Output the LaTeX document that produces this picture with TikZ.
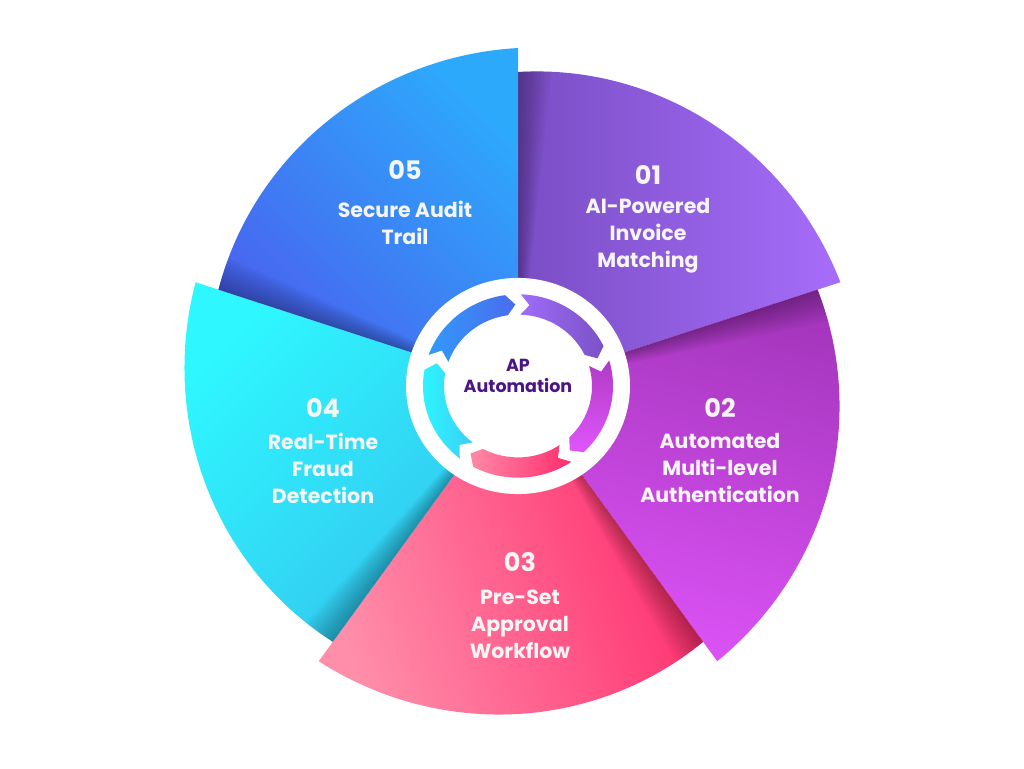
\documentclass[tikz,border=0pt]{standalone}
\usepackage{fontspec}
\setmainfont{Poppins}
\definecolor{txtc}{HTML}{F5F5F5}
\definecolor{ctr}{HTML}{4B1587}
% sector colours
\definecolor{s1t}{HTML}{A66DFA}\definecolor{s1b}{HTML}{7A4EC5}
\definecolor{s2t}{HTML}{A536BD}\definecolor{s2b}{HTML}{DD53F7}
\definecolor{s3t}{HTML}{FF2B6C}\definecolor{s3b}{HTML}{FF8EAA}
\definecolor{s4t}{HTML}{2EF7FF}\definecolor{s4b}{HTML}{34C3EE}
\definecolor{s5t}{HTML}{2DA9FC}\definecolor{s5b}{HTML}{4A60EE}
% arrow colours
\definecolor{a1l}{HTML}{A06CF8}\definecolor{a1r}{HTML}{7A52C6}
\definecolor{a2t}{HTML}{B13AC8}\definecolor{a2b}{HTML}{DF56F9}
\definecolor{a3l}{HTML}{FF88A7}\definecolor{a3r}{HTML}{FF2D6D}
\definecolor{a4l}{HTML}{2DF7FF}\definecolor{a4r}{HTML}{3AD0F5}
\definecolor{a5l}{HTML}{3299FA}\definecolor{a5r}{HTML}{4A6CEE}
\begin{document}
\begin{tikzpicture}[x=1pt,y=1pt,
  lbl/.style={text=txtc, font=\bfseries\fontsize{20.5}{27}\selectfont, align=center, inner sep=0pt},
  num/.style={text=txtc, font=\bfseries\fontsize{25.5}{30}\selectfont, inner sep=0pt},
  ctrtxt/.style={text=ctr, font=\bfseries\fontsize{17.5}{21}\selectfont, align=center, inner sep=0pt}]
\useasboundingbox (0,0) rectangle (1024,768);
\fill[white] (0,0) rectangle (1024,768);
\coordinate (c) at (518,381);
% sectors
\begin{scope}[shift={(518,381)}]
\foreach \a/\ct/\cb/\ang in {90/s1t/s1b/-90, 18/s2t/s2b/-15, -54/s3t/s3b/-72, -126/s4t/s4b/45, 162/s5t/s5b/-45}{
  \shade[top color=\ct, bottom color=\cb, shading angle=\ang]
    (0,0) -- plot[variable=\s, domain=0:72, samples=60]
      ({(315+24*\s/72)*cos(\a-\s)}, {(315+24*\s/72)*sin(\a-\s)}) -- cycle;
  \begin{scope}
    \clip (0,0) -- plot[variable=\s, domain=0:72, samples=60]
      ({(315+24*\s/72)*cos(\a-\s)}, {(315+24*\s/72)*sin(\a-\s)}) -- cycle;
    \foreach \w in {1,...,10}
      \fill[black, opacity=0.03] (0,0) -- ({\a+1}:420) -- ({\a-\w*0.6}:420) -- cycle;
  \end{scope}
}
\end{scope}
% central ring
\begin{scope}[shift={(518,382)}, yscale=0.965]
  \fill[white] (0,0) circle[radius=112];
  \foreach \a/\cl/\cr/\ang in {162/a5l/a5r/90, 90/a1l/a1r/90, 18/a2t/a2b/0, -54/a3l/a3r/90, -126/a4l/a4r/90}{
    \pgfmathsetmacro\aa{\a-1.8}
    \pgfmathsetmacro\ab{\a-72+1.8+6}
    \pgfmathsetmacro\atip{\a-72+1.8}
    \pgfmathsetmacro\anotch{\a-1.8-6}
    \shade[top color=\cl, bottom color=\cr, shading angle=\ang]
      (\aa:95) arc[start angle=\aa, end angle=\ab, radius=95]
      -- (\atip:84.5) -- (\ab:74)
      arc[start angle=\ab, end angle=\aa, radius=74]
      -- (\anotch:84.5) -- cycle;
  }
\end{scope}
\node[ctrtxt] (ctrl) at (518,392) {AP\\Automation};
% labels
\node[num] (n05) at (405,598) {05};
\node[lbl] (t05) at (405,545) {Secure Audit\\Trail};
\node[num] (n01) at (648,593) {01};
\node[lbl] (t01) at (648,532) {AI-Powered\\Invoice\\Matching};
\node[num] (n02) at (720,360) {02};
\node[lbl] (t02) at (720,300) {Automated\\Multi-level\\Authentication};
\node[num] (n03) at (520,206) {03};
\node[lbl] (t03) at (520,144) {Pre-Set\\Approval\\Workflow};
\node[num] (n04) at (323,360) {04};
\node[lbl] (t04) at (323,300) {Real-Time\\Fraud\\Detection};
\end{tikzpicture}
\end{document}
